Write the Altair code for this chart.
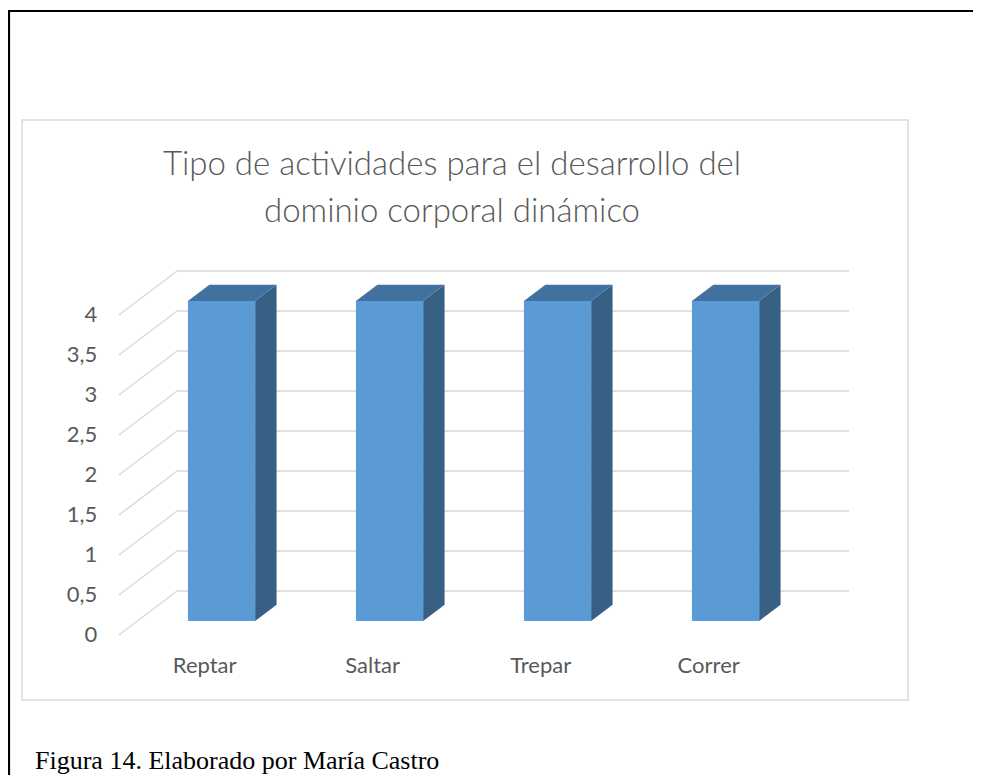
import altair as alt
import pandas as pd

# ---- data ----
categories = ["Reptar", "Saltar", "Trepar", "Correr"]
values = [4, 4, 4, 4]
tick_values = [0, 0.5, 1, 1.5, 2, 2.5, 3, 3.5, 4]
tick_labels = ["0", "0,5", "1", "1,5", "2", "2,5", "3", "3,5", "4"]
title_lines = ["Tipo de actividades para el desarrollo del", "dominio corporal dinámico"]
caption = "Figura 14. Elaborado por María Castro"

# ---- 3D projection constants (in data units) ----
DX = 0.345   # horizontal shift from front plane to back wall (category units)
DY = 0.55    # vertical shift from front plane to back wall (value units)
TF, TB = 0.32, 0.69   # depth of bar front / back face (0 = front, 1 = back wall)
HW = 0.2     # half width of bar
X0, X1 = -0.5, len(categories) - 0.5

FRONT = "#5B9BD5"
SIDE = "#386085"
TOP = "#41729F"
GRID = "#D9D9D9"
TEXT = "#595959"

xs = alt.Scale(domain=[-1.07738, 4.19643], nice=False, zero=False)
ys = alt.Scale(domain=[-0.8125, 6.4375], nice=False, zero=False)

# gridlines: diagonal (side wall) + back wall
grid = pd.DataFrame({"v": tick_values, "label": tick_labels})
grid["xa"] = X0
grid["xb"] = X0 + DX
grid["xe"] = X1 + DX
grid["xl"] = X0 - 0.13
grid["ya"] = grid["v"]
grid["yb"] = grid["v"] + DY

diag = alt.Chart(grid).mark_rule(color=GRID, strokeWidth=1.5).encode(
    x=alt.X("xa:Q", scale=xs, axis=None), x2="xb",
    y=alt.Y("ya:Q", scale=ys, axis=None), y2="yb")
back = alt.Chart(grid).mark_rule(color=GRID, strokeWidth=1.5).encode(
    x=alt.X("xb:Q", scale=xs, axis=None), x2="xe",
    y=alt.Y("yb:Q", scale=ys, axis=None))
ylabels = alt.Chart(grid).mark_text(font="Lato", fontSize=22, color=TEXT,
                                    align="right", baseline="middle").encode(
    x=alt.X("xl:Q", scale=xs, axis=None),
    y=alt.Y("ya:Q", scale=ys, axis=None), text="label:N")

# bars
front_rows, side_rows, top_rows = [], [], []
for i, (c, v) in enumerate(zip(categories, values)):
    front_rows.append({"cat": c, "xl": i + TF * DX - HW, "xr": i + TF * DX + HW,
                       "lo": TF * DY, "hi": v + TF * DY})
    side_rows += [
        {"cat": c, "x": i + TF * DX + HW, "lo": TF * DY, "hi": v + TF * DY},
        {"cat": c, "x": i + TB * DX + HW, "lo": TB * DY, "hi": v + TB * DY},
    ]
    top_rows += [
        {"cat": c, "x": i + TF * DX - HW, "lo": v + TF * DY, "hi": v + TF * DY},
        {"cat": c, "x": i + TB * DX - HW, "lo": v + TF * DY, "hi": v + TB * DY},
        {"cat": c, "x": i + TF * DX + HW, "lo": v + TF * DY, "hi": v + TB * DY},
        {"cat": c, "x": i + TB * DX + HW, "lo": v + TB * DY, "hi": v + TB * DY},
    ]

front = alt.Chart(pd.DataFrame(front_rows)).mark_rect(color=FRONT).encode(
    x=alt.X("xl:Q", scale=xs, axis=None), x2="xr",
    y=alt.Y("lo:Q", scale=ys, axis=None), y2="hi")
side = alt.Chart(pd.DataFrame(side_rows)).mark_area(color=SIDE).encode(
    x=alt.X("x:Q", scale=xs, axis=None),
    y=alt.Y("lo:Q", scale=ys, axis=None, stack=None), y2="hi",
    detail="cat:N")
top = alt.Chart(pd.DataFrame(top_rows)).mark_area(color=TOP).encode(
    x=alt.X("x:Q", scale=xs, axis=None),
    y=alt.Y("lo:Q", scale=ys, axis=None, stack=None), y2="hi",
    detail="cat:N")

# category labels
lab = pd.DataFrame({"cat": categories, "x": list(range(len(categories)))})
lab["x"] = lab["x"] + 0.01
lab["y"] = -0.47
cat_text = alt.Chart(lab).mark_text(font="Lato", fontSize=22, color=TEXT,
                                    baseline="alphabetic", align="center").encode(
    x=alt.X("x:Q", scale=xs, axis=None),
    y=alt.Y("y:Q", scale=ys, axis=None), text="cat:N")

# title
title = alt.Chart(pd.DataFrame({"t": ["\n".join(title_lines)]})).mark_text(
    font="Lato", fontSize=33, fontWeight=300, color=TEXT, baseline="alphabetic",
    align="center", lineBreak="\n", lineHeight=47).encode(
    x=alt.value(430), y=alt.value(55), text="t:N")

# caption
cap = alt.Chart(pd.DataFrame({"t": [caption]})).mark_text(
    font="Liberation Serif", fontSize=26, color="black", baseline="alphabetic",
    align="left").encode(x=alt.value(13), y=alt.value(649), text="t:N")

# page frame (black, top and left)
one = pd.DataFrame({"a": [0]})
frame_top = alt.Chart(one).mark_rule(color="black", strokeWidth=2.2).encode(
    x=alt.value(-14), x2=alt.value(951), y=alt.value(-109))
frame_left = alt.Chart(one).mark_rule(color="black", strokeWidth=2.2).encode(
    x=alt.value(-13), y=alt.value(-109), y2=alt.value(655))

chart = alt.layer(diag, back, ylabels, side, top, front, cat_text, title, cap,
                  frame_top, frame_left).properties(
    width=886, height=580,
    autosize=alt.AutoSizeParams(type="none"),
    padding={"left": 14, "top": 112, "right": 65, "bottom": 75},
    background="white",
).configure_view(stroke=GRID, strokeWidth=1.5)

chart.save("out.html", embed_options={"renderer": "svg", "actions": False})
